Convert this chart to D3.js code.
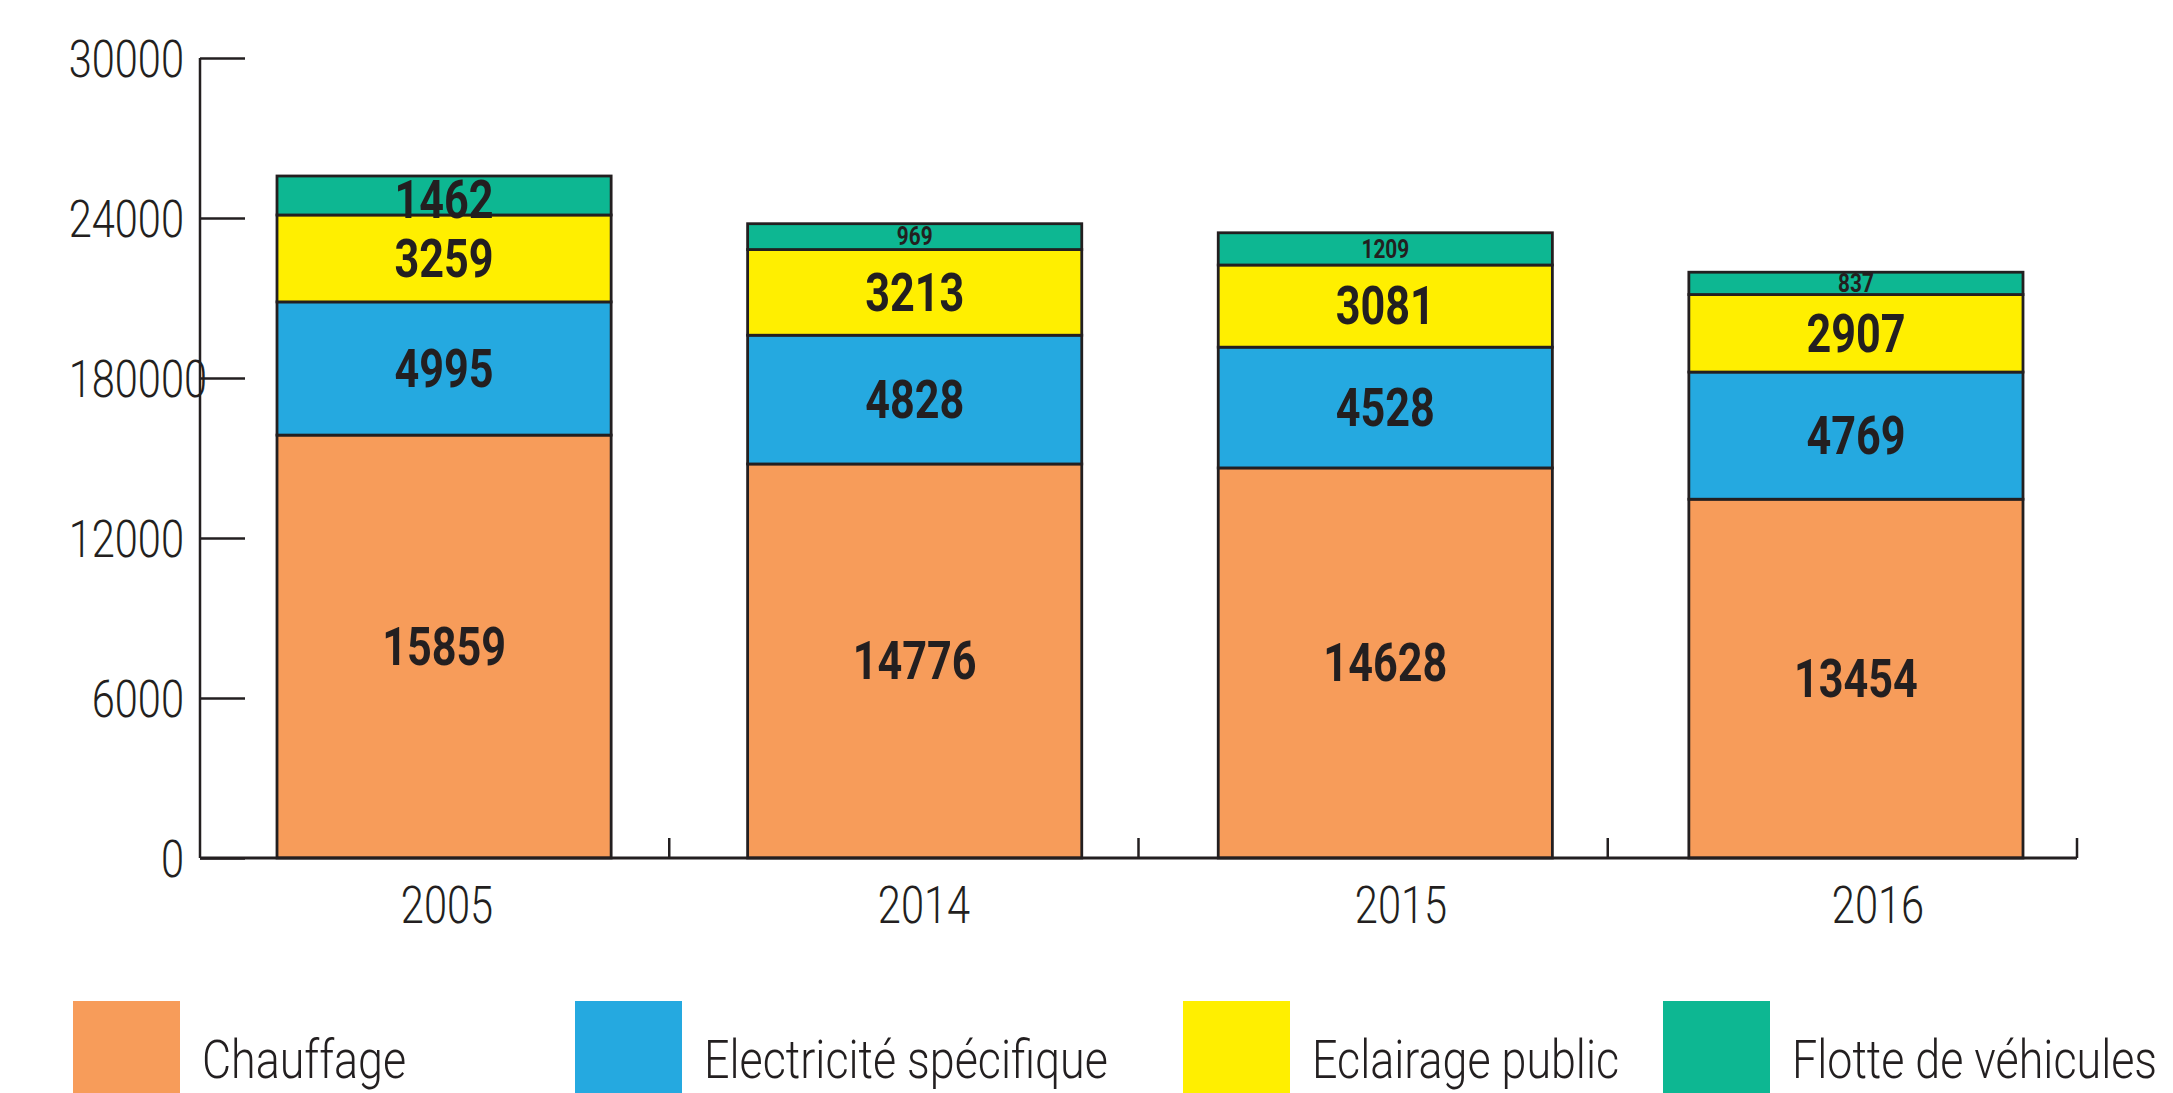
<!DOCTYPE html>
<html>
<head>
<meta charset="utf-8">
<script src="https://cdn.jsdelivr.net/npm/d3@7"></script>
<style>
  body { margin: 0; background: #fff; }
  svg text { font-family: Roboto, "DejaVu Sans Condensed", sans-serif; fill: #231f20; }
</style>
</head>
<body>
<div id="chart"></div>
<script>
// data
const years = ["2005", "2014", "2015", "2016"]
const series = ["Chauffage", "Electricité spécifique", "Eclairage public", "Flotte de véhicules"]
const chauffage = [15859, 14776, 14628, 13454]
const electricite = [4995, 4828, 4528, 4769]
const eclairage = [3259, 3213, 3081, 2907]
const flotte = [1462, 969, 1209, 837]
const yTicks = [0, 6000, 12000, 18000, 24000, 30000]
const yTickLabels = ["0", "6000", "12000", "180000", "24000", "30000"]
const colors = ["#f79c5a", "#25a9e0", "#ffef00", "#0db792"]

const W = 2173, H = 1093
const ink = "#231f20"
const narrow = 0.8   // the original font is a condensed one

const svg = d3.select("#chart").append("svg")
  .attr("width", W)
  .attr("height", H)

// build rows for the stack
const rows = years.map((yr, i) => ({
  year: yr,
  "Chauffage": chauffage[i],
  "Electricité spécifique": electricite[i],
  "Eclairage public": eclairage[i],
  "Flotte de véhicules": flotte[i]
}))
const stacked = d3.stack().keys(series)(rows)

const y = d3.scaleLinear().domain([0, 30000]).range([858, 58])
const xGrid = d3.scaleBand().domain(years).range([200, 2077])
const xBar = d3.scaleBand().domain(years).range([277, 2023]).paddingInner(0.29)
const xLabel = d3.scalePoint().domain(years).range([447, 1878])

// bars
const layers = svg.append("g").selectAll("g")
  .data(stacked)
  .join("g")
    .attr("fill", (d, i) => colors[i])

layers.selectAll("rect")
  .data(d => d)
  .join("rect")
    .attr("x", d => xBar(d.data.year))
    .attr("y", d => y(d[1]))
    .attr("width", xBar.bandwidth())
    .attr("height", d => y(d[0]) - y(d[1]))
    .attr("stroke", ink)
    .attr("stroke-width", 2.8)

// value labels
const segH = d => y(d[0]) - y(d[1])
layers.selectAll("text")
  .data(d => d)
  .join("text")
    .attr("transform", d => {
      const cx = xBar(d.data.year) + xBar.bandwidth() / 2
      const cy = (y(d[0]) + y(d[1])) / 2 + (segH(d) > 36 && segH(d) < 50 ? 4 : 0)
      return `translate(${cx},${cy}) scale(${narrow},1)`
    })
    .attr("text-anchor", "middle")
    .attr("dominant-baseline", "central")
    .attr("font-weight", "bold")
    .attr("font-size", d => segH(d) > 36 ? 54 : 26)
    .text(d => d[1] - d[0])

// y axis
const yAxis = svg.append("g")
  .attr("transform", "translate(200,0)")
  .call(d3.axisLeft(y)
    .tickValues(yTicks)
    .tickFormat((d, i) => yTickLabels[i])
    .tickSize(-45))
yAxis.select(".domain").attr("stroke", ink).attr("stroke-width", 2.5)
  .attr("d", `M0,${y(30000)}V${y(0)}`)
yAxis.selectAll(".tick line").attr("stroke", ink).attr("stroke-width", 2.5)
yAxis.selectAll(".tick text")
  .attr("x", null).attr("dy", null)
  .attr("transform", `translate(-16,0) scale(${narrow},1)`)
  .attr("dominant-baseline", "central")
  .attr("font-size", 52)
  .attr("font-weight", 300)
  .attr("font-family", null)
  .each(function(d, i) {
    // the "180000" label keeps the left edge of a five digit label
    const s = yTickLabels[i]
    if (s.length > 5) {
      const w = this.getComputedTextLength()
      d3.select(this).attr("dx", w / s.length * (s.length - 5))
    }
  })

// x axis: baseline, boundary ticks and year labels
const xAxis = svg.append("g")
  .attr("transform", `translate(0,${y(0)})`)
xAxis.append("line")
  .attr("x1", 200).attr("x2", 2077)
  .attr("stroke", ink).attr("stroke-width", 3)
xAxis.selectAll(".sep")
  .data(years)
  .join("line")
    .attr("class", "sep")
    .attr("x1", d => xGrid(d) + xGrid.step())
    .attr("x2", d => xGrid(d) + xGrid.step())
    .attr("y1", 0).attr("y2", -20)
    .attr("stroke", ink).attr("stroke-width", 2.5)
xAxis.selectAll(".yr")
  .data(years)
  .join("text")
    .attr("class", "yr")
    .attr("transform", d => `translate(${xLabel(d)},65) scale(${narrow},1)`)
    .attr("text-anchor", "middle")
    .attr("font-size", 52)
    .attr("font-weight", 300)
    .text(d => d)

// legend
const legendX = [73, 575, 1183, 1663]
const legend = svg.append("g").selectAll("g")
  .data(series)
  .join("g")
    .attr("transform", (d, i) => `translate(${legendX[i]},1001)`)
legend.append("rect")
  .attr("width", 107).attr("height", 100)
  .attr("fill", (d, i) => colors[i])
legend.append("text")
  .attr("transform", "translate(129,77) scale(0.83,1)")
  .attr("font-size", 54)
  .attr("font-weight", 300)
  .text(d => d)
</script>
</body>
</html>
